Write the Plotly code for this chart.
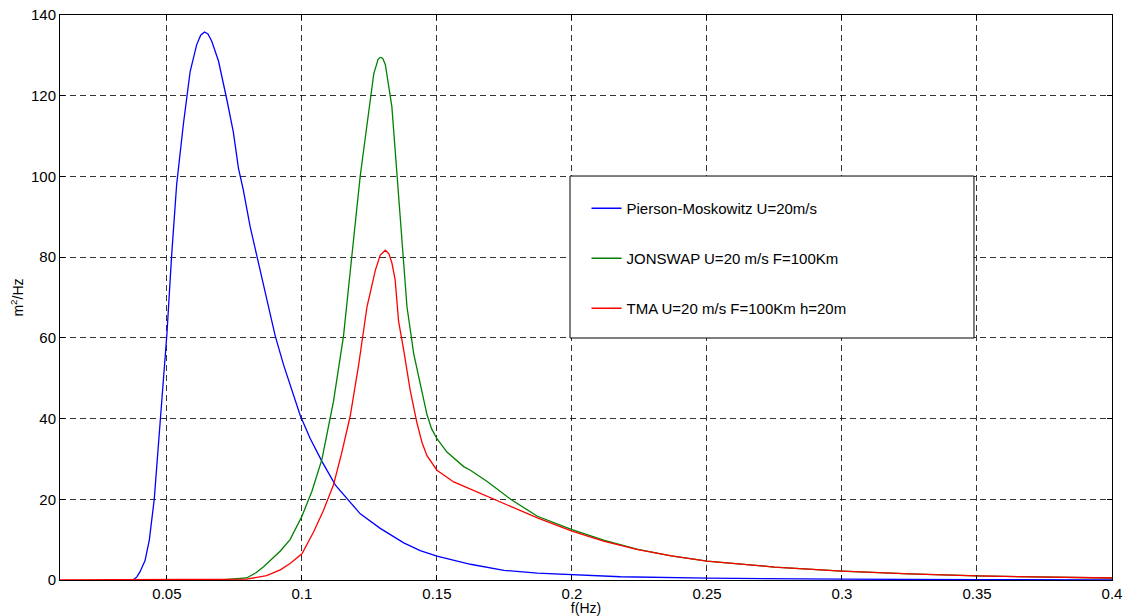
import plotly.graph_objects as go

# ---- data ----
pm_f = [0.027, 0.0375, 0.0388, 0.040, 0.0419, 0.0435, 0.0453, 0.0465, 0.0477, 0.0489, 0.050,
        0.0517, 0.0536, 0.0561, 0.0586, 0.061, 0.0625, 0.0639, 0.0652, 0.0666, 0.0691, 0.0722,
        0.0746, 0.0765, 0.0783, 0.0808, 0.0833, 0.0864, 0.0901, 0.0932, 0.0963, 0.0994, 0.1031,
        0.1074, 0.1124, 0.1179, 0.1216, 0.129, 0.1377, 0.1438, 0.15, 0.1624, 0.1748, 0.1872,
        0.2, 0.218, 0.25, 0.275, 0.3, 0.35, 0.4]
pm_s = [0, 0.05, 0.7, 2, 4.8, 10, 20, 30, 40, 50, 61,
        80, 98, 113, 126, 132.6, 135, 135.8, 135.3, 133.5, 128.6, 119,
        111, 102, 96.6, 87.6, 80.4, 71.3, 60.5, 53.3, 47, 40.7, 35,
        29.4, 23.5, 19.1, 16.4, 12.8, 9.2, 7.3, 5.9, 3.9, 2.4, 1.7,
        1.3, 0.8, 0.45, 0.3, 0.2, 0.1, 0.05]

js_f = [0.054, 0.07, 0.0795, 0.083, 0.0858, 0.089, 0.092, 0.0956, 0.1, 0.1037, 0.1074,
        0.1117, 0.1154, 0.1185, 0.1216, 0.1241, 0.1266, 0.1282, 0.129, 0.1299, 0.1309,
        0.1333, 0.1352, 0.1371, 0.1389, 0.1414, 0.1438, 0.1463, 0.148, 0.15, 0.1537,
        0.1562, 0.1599, 0.1624, 0.166, 0.1686, 0.1773, 0.1872, 0.2, 0.212, 0.2244, 0.2368,
        0.25, 0.275, 0.3, 0.325, 0.35, 0.375, 0.4]
js_s = [0, 0.05, 0.5, 1.8, 3.3, 5.3, 7.2, 10, 15.8, 22, 29.9,
        44.3, 60.5, 80.4, 100.2, 112.8, 125.4, 129, 129.5, 129.3, 127.7,
        117.3, 100.2, 82.2, 67.7, 56, 48.5, 41, 37.5, 35, 31.7,
        30.2, 28.1, 27.2, 25.7, 24.4, 20, 15.8, 12.5, 9.8, 7.6, 6,
        4.7, 3.2, 2.2, 1.5, 1.0, 0.7, 0.5]

tma_f = [0.0104, 0.07, 0.0795, 0.0869, 0.092, 0.0956, 0.1, 0.1043, 0.108, 0.1117, 0.1148,
         0.1179, 0.121, 0.1241, 0.1272, 0.129, 0.1309, 0.1322, 0.1333, 0.1345, 0.1358,
         0.1377, 0.1401, 0.1426, 0.1445, 0.1463, 0.15, 0.1562, 0.166, 0.1686, 0.1773,
         0.1872, 0.2, 0.212, 0.2244, 0.2368, 0.25, 0.275, 0.3, 0.325, 0.35, 0.375, 0.4]
tma_s = [0, 0.02, 0.2, 1.1, 2.5, 4.1, 6.5, 11.9, 17.3, 23.6, 31.7,
         40.7, 53.3, 67.7, 76.8, 80.5, 81.7, 80.8, 78.6, 74.5, 64.1,
         56.9, 47, 38.9, 34, 30.8, 27.2, 24.3, 21.5, 20.8, 18.3,
         15.4, 12.1, 9.6, 7.5, 6, 4.7, 3.2, 2.2, 1.5, 1.0, 0.7, 0.5]

names = ["Pierson-Moskowitz U=20m/s", "JONSWAP U=20 m/s F=100Km", "TMA U=20 m/s F=100Km h=20m"]
colors = ["#0000FF", "#008000", "#FF0000"]

x_ticks = [0.05, 0.1, 0.15, 0.2, 0.25, 0.3, 0.35, 0.4]
x_labels = ["0.05", "0.1", "0.15", "0.2", "0.25", "0.3", "0.35", "0.4"]
y_ticks = [0, 20, 40, 60, 80, 100, 120, 140]

FONT = "Arial, Liberation Sans, sans-serif"

fig = go.Figure()
for i, (fx, fy) in enumerate([(pm_f, pm_s), (js_f, js_s), (tma_f, tma_s)]):
    fig.add_trace(go.Scatter(x=fx, y=fy, mode="lines", name=names[i],
                             legendgroup=f"g{i}",
                             line=dict(color=colors[i], width=1.3)))

axis_common = dict(
    showline=True, linecolor="black", linewidth=1, mirror="allticks",
    ticks="inside", ticklen=5, tickcolor="black", tickwidth=1,
    showgrid=True, gridcolor="rgba(0,0,0,0.8)", gridwidth=1, griddash="6px,4px",
    zeroline=False, automargin=False,
    tickfont=dict(family=FONT, size=15, color="black"),
)

fig.update_xaxes(range=[0.0104, 0.4], tickvals=x_ticks, ticktext=x_labels,
                 title=dict(text="f(Hz)", font=dict(family=FONT, size=14, color="black"), standoff=0),
                 **axis_common)
fig.update_yaxes(range=[0, 140], tickvals=y_ticks,
                 title=dict(text="m<sup>2</sup>/Hz", font=dict(family=FONT, size=14, color="black"), standoff=4),
                 **axis_common)

# legend box (white, black border)
fig.add_shape(type="rect", xref="paper", yref="paper",
              x0=0.4848, x1=0.8688, y0=0.4283, y1=0.7150,
              line=dict(color="black", width=1), fillcolor="white", layer="above")

fig.update_layout(
    width=1125, height=616, autosize=False,
    margin=dict(l=60, r=13, t=15, b=36),
    plot_bgcolor="white", paper_bgcolor="white",
    font=dict(family=FONT, size=15, color="black"),
    showlegend=True,
    legend=dict(x=0.5005, y=0.6867, xanchor="left", yanchor="top",
                bgcolor="rgba(0,0,0,0)", borderwidth=0,
                font=dict(family=FONT, size=15, color="black"),
                tracegroupgap=27.5),
)

fig.write_html("out.html",
               config={"displayModeBar": False},
               post_script="document.body.style.margin='0';document.body.style.padding='0';document.body.style.overflow='hidden';")
